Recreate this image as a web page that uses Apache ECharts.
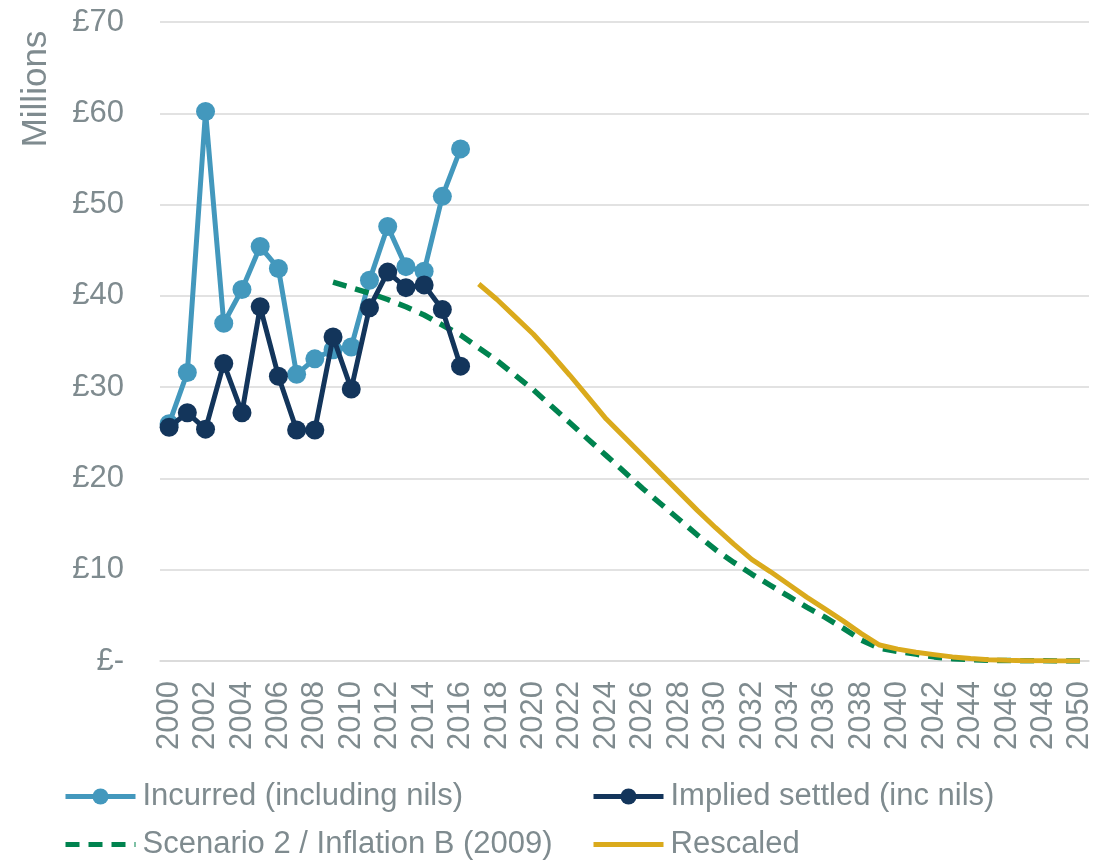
<!DOCTYPE html>
<html>
<head>
<meta charset="utf-8">
<script src="https://cdn.jsdelivr.net/npm/echarts@6/dist/echarts.min.js"></script>
<style>
html,body{margin:0;padding:0;background:#fff;}
#chart{width:1119px;height:860px;}
</style>
</head>
<body>
<div id="chart"></div>
<script>
var years = [];
for (var y = 2000; y <= 2050; y++) { years.push(String(y)); }

var incurred = [26.0, 31.6, 60.2, 37.0, 40.7, 45.4, 43.0, 31.4, 33.1, 34.1, 34.4, 41.7, 47.6, 43.2, 42.7, 50.9, 56.1];
var impliedSettled = [25.6, 27.2, 25.4, 32.6, 27.2, 38.8, 31.2, 25.3, 25.3, 35.5, 29.8, 38.7, 42.6, 40.9, 41.2, 38.5, 32.3];
var scenarioStart = 2009;
var scenario2 = [41.5, 40.9, 40.3, 39.6, 38.8, 37.9, 36.8, 35.7, 34.3, 32.9, 31.3, 29.7, 27.9, 26.1, 24.3, 22.5, 20.7, 18.9, 17.2, 15.5, 13.8, 12.2, 10.8, 9.5, 8.3, 7.1, 5.9, 4.8, 3.6, 2.3, 1.4, 1.05, 0.75, 0.45, 0.25, 0.15, 0.08, 0.05, 0.03, 0.02, 0.01, 0.0];
var rescaledStart = 2017;
var rescaled = [41.3, 39.6, 37.7, 35.8, 33.6, 31.3, 28.9, 26.5, 24.5, 22.5, 20.5, 18.5, 16.5, 14.6, 12.8, 11.1, 9.8, 8.4, 7.0, 5.7, 4.4, 3.0, 1.75, 1.3, 0.95, 0.7, 0.45, 0.28, 0.15, 0.08, 0.04, 0.02, 0.01, 0.0];
var yTicks = { min: 0, max: 70, step: 10 };
var seriesNames = ['Incurred (including nils)', 'Implied settled (inc nils)', 'Scenario 2 / Inflation B (2009)', 'Rescaled'];

function padTo(arr, startYear) {
  var out = [];
  for (var i = 0; i < years.length; i++) {
    var idx = (2000 + i) - startYear;
    out.push(idx >= 0 && idx < arr.length ? arr[idx] : null);
  }
  return out;
}

var FONT = '"Liberation Sans", Arial, sans-serif';
var GRAY = '#7F8B8F';
var GRID = '#D9D9D9';

function legendAt(name, left, top, hideSymbol) {
  var l = {
    orient: 'horizontal', left: left, top: top, padding: 0,
    itemWidth: 70, itemHeight: 20,
    data: [name],
    lineStyle: { width: 5 },
    textStyle: { color: GRAY, fontSize: 31, fontFamily: FONT, padding: [0, 0, 0, 2] }
  };
  if (hideSymbol) { l.itemStyle = { opacity: 0 }; }
  return l;
}

var chart = echarts.init(document.getElementById('chart'), null, { renderer: 'canvas' });
chart.setOption({
  animation: false,
  backgroundColor: '#ffffff',
  textStyle: { fontFamily: FONT },
  grid: { left: 160, right: 30, top: 22, bottom: 199, containLabel: false },
  graphic: [{
    type: 'text',
    x: 36, y: 89,
    rotation: Math.PI / 2,
    style: { text: 'Millions', font: '35px ' + FONT, fill: GRAY, align: 'center', verticalAlign: 'middle' }
  }],
  legend: [
    legendAt(seriesNames[0], 63, 781, false),
    legendAt(seriesNames[1], 591, 781, false),
    legendAt(seriesNames[2], 63, 829, true),
    legendAt(seriesNames[3], 591, 829, true)
  ],
  xAxis: {
    type: 'category',
    data: years,
    boundaryGap: true,
    axisTick: { show: false },
    axisLine: { lineStyle: { color: GRID, width: 1.5 } },
    axisLabel: { interval: 1, rotate: 90, margin: 20, color: GRAY, fontSize: 31, fontFamily: FONT }
  },
  yAxis: {
    type: 'value',
    min: yTicks.min, max: yTicks.max, interval: yTicks.step,
    axisLine: { show: false },
    axisTick: { show: false },
    splitLine: { lineStyle: { color: GRID, width: 1.5 } },
    axisLabel: {
      margin: 36, color: GRAY, fontSize: 31, fontFamily: FONT,
      formatter: function (v) { return v === 0 ? '£-' : '£' + v; }
    }
  },
  series: [{
    name: seriesNames[0],
    type: 'line',
    data: padTo(incurred, 2000),
    symbol: 'circle', symbolSize: 19, showAllSymbol: true,
    lineStyle: { color: '#4398BD', width: 5 },
    itemStyle: { color: '#4398BD' },
    z: 2
  }, {
    name: seriesNames[1],
    type: 'line',
    data: padTo(impliedSettled, 2000),
    symbol: 'circle', symbolSize: 19, showAllSymbol: true,
    lineStyle: { color: '#13355B', width: 5 },
    itemStyle: { color: '#13355B' },
    z: 4
  }, {
    name: seriesNames[2],
    type: 'line',
    data: padTo(scenario2, scenarioStart),
    showSymbol: false, symbol: 'none',
    lineStyle: { color: '#00834F', width: 5.5, type: [14, 9] },
    itemStyle: { color: '#00834F' },
    z: 3
  }, {
    name: seriesNames[3],
    type: 'line',
    data: padTo(rescaled, rescaledStart),
    showSymbol: false, symbol: 'none',
    lineStyle: { color: '#DAAA1C', width: 5 },
    itemStyle: { color: '#DAAA1C' },
    z: 5
  }]
});
</script>
</body>
</html>
